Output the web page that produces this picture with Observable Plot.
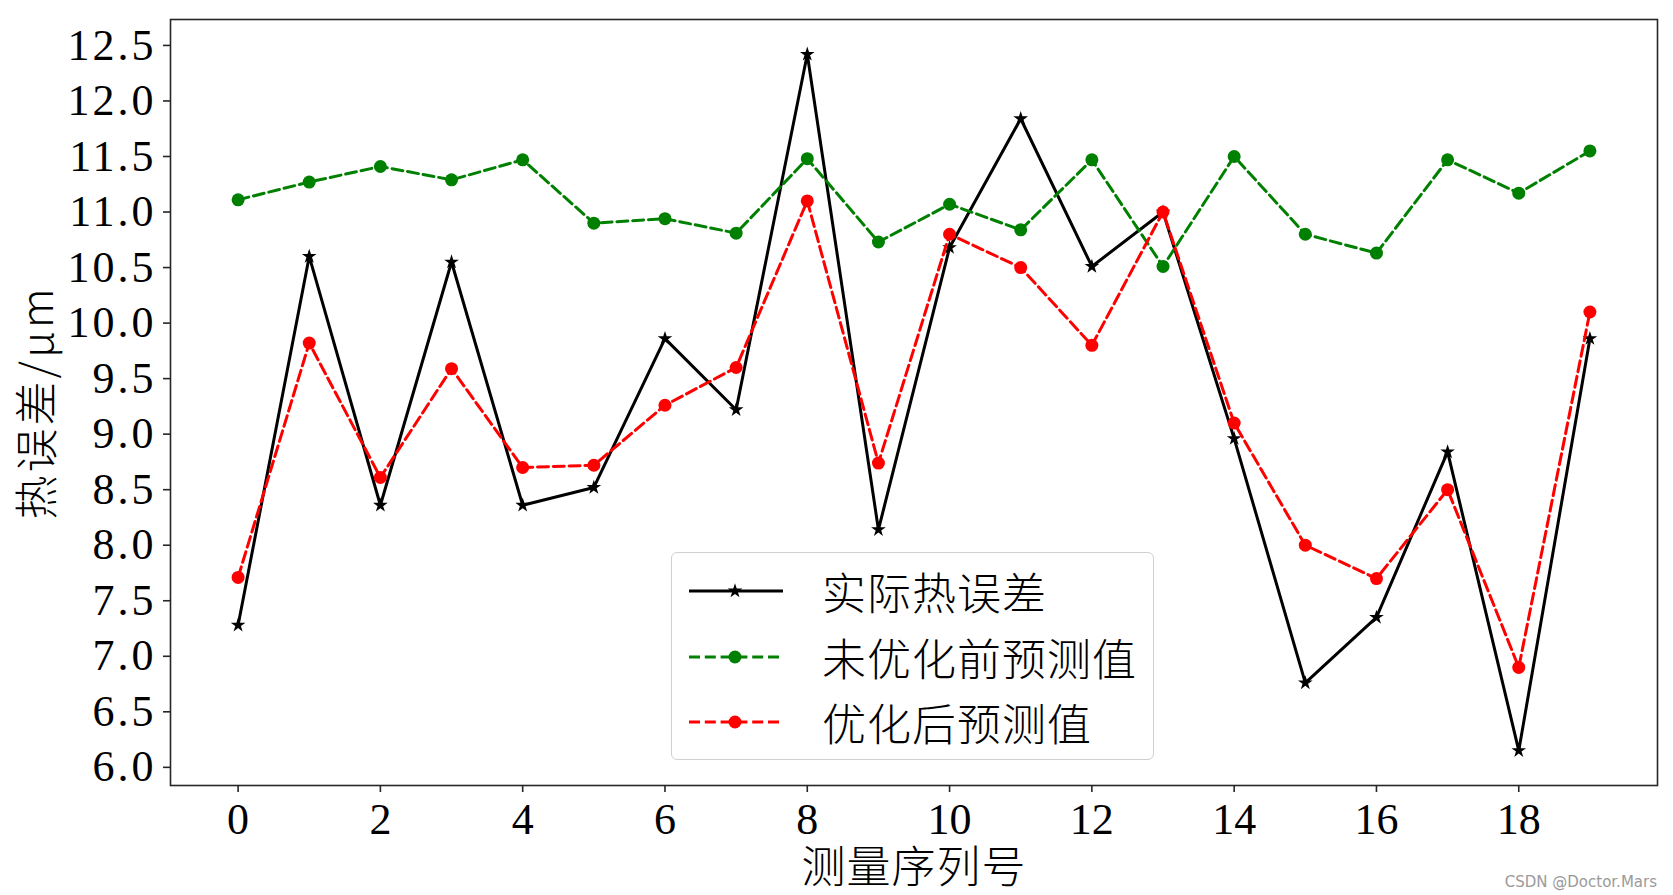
<!DOCTYPE html>
<html>
<head>
<meta charset="utf-8">
<script src="https://cdn.jsdelivr.net/npm/d3@7"></script>
<script src="https://cdn.jsdelivr.net/npm/@observablehq/plot@0.6"></script>
<style>
  body { margin: 0; background: #fff; }
  #wrap { position: relative; width: 1673px; height: 895px; overflow: hidden; }
  #wrap svg text { fill: #000; }
  g[aria-label="y-axis tick label"] text, g[aria-label="x-axis tick label"] text {
    font-family: "Liberation Serif", "DejaVu Serif", serif; font-size: 44px;
  }
  g[aria-label="y-axis tick label"] text { letter-spacing: 3px; }
  g[aria-label="y-axis label"] text, g[aria-label="x-axis label"] text {
    font-family: "Noto Sans CJK SC", sans-serif; font-size: 44px; font-weight: 300;
  }
  g[aria-label="y-axis label"] text { letter-spacing: 3px; }
  g[aria-label="x-axis label"] text { letter-spacing: 1px; }
  #legend {
    position: absolute; left: 671px; top: 552px; width: 483px; height: 208px;
    border: 1.5px solid #d0d0d0; border-radius: 6px; background: rgba(255,255,255,0.8);
    box-sizing: border-box;
  }
  .row { position: absolute; left: 0; height: 60px; display: flex; align-items: center; }
  .row svg { position: absolute; left: 16px; top: 0; }
  .row span { position: absolute; left: 150px; white-space: nowrap; font-family: "Noto Sans CJK SC", sans-serif; font-size: 44px; font-weight: 300; line-height: 60px; color: #000; letter-spacing: 1px; }
  #mark { position: absolute; right: 16px; bottom: 4px; font-family: "DejaVu Sans", sans-serif; font-size: 15px; color: #9a9a9a; }
</style>
</head>
<body>
<div id="wrap"></div>
<script>
// ---- data ----
const index = [0, 1, 2, 3, 4, 5, 6, 7, 8, 9, 10, 11, 12, 13, 14, 15, 16, 17, 18, 19];
const actual = [7.28, 10.60, 8.36, 10.55, 8.36, 8.52, 9.86, 9.22, 12.42, 8.14, 10.68, 11.84, 10.51, 11.00, 8.96, 6.76, 7.35, 8.84, 6.15, 9.86];
const beforeOpt = [11.11, 11.27, 11.41, 11.29, 11.47, 10.90, 10.94, 10.81, 11.48, 10.73, 11.07, 10.84, 11.47, 10.51, 11.50, 10.80, 10.63, 11.47, 11.17, 11.55];
const afterOpt = [7.71, 9.82, 8.61, 9.59, 8.70, 8.72, 9.26, 9.60, 11.10, 8.74, 10.80, 10.50, 9.80, 11.00, 9.10, 8.00, 7.70, 8.50, 6.90, 10.10];
const seriesNames = ["实际热误差", "未优化前预测值", "优化后预测值"];
const seriesColors = ["black", "green", "red"];
const xTicks = [0, 2, 4, 6, 8, 10, 12, 14, 16, 18];
const yTicks = [6.0, 6.5, 7.0, 7.5, 8.0, 8.5, 9.0, 9.5, 10.0, 10.5, 11.0, 11.5, 12.0, 12.5];
const xLabel = "测量序列号";
const yLabel = "热误差/μm";

// ---- build ----
const rows = vals => index.map((x, i) => ({x, y: vals[i]}));
const all = actual.concat(beforeOpt, afterOpt);
const yLo = d3.min(all), yHi = d3.max(all), yPad = (yHi - yLo) * 0.05;
const xLo = d3.min(index), xHi = d3.max(index), xPad = (xHi - xLo) * 0.05;
const dash = "11,4.8";
const lw = 3;

const chart = Plot.plot({
  width: 1673, height: 895,
  marginLeft: 170, marginTop: 19, marginRight: 16, marginBottom: 110,
  x: {domain: [xLo - xPad, xHi + xPad]},
  y: {domain: [yLo - yPad, yHi + yPad]},
  marks: [
    Plot.line(rows(actual), {x: "x", y: "y", stroke: seriesColors[0], strokeWidth: lw}),
    Plot.dot(rows(actual), {x: "x", y: "y", symbol: "star", fill: seriesColors[0], r: 4.6}),
    Plot.line(rows(beforeOpt), {x: "x", y: "y", stroke: seriesColors[1], strokeWidth: lw, strokeDasharray: dash}),
    Plot.dot(rows(beforeOpt), {x: "x", y: "y", fill: seriesColors[1], r: 6.5}),
    Plot.line(rows(afterOpt), {x: "x", y: "y", stroke: seriesColors[2], strokeWidth: lw, strokeDasharray: dash}),
    Plot.dot(rows(afterOpt), {x: "x", y: "y", fill: seriesColors[2], r: 6.5}),
    Plot.frame({stroke: "#262626", strokeWidth: 1.6}),
    Plot.axisX({ticks: xTicks, tickFormat: d => String(d), tickSize: 7, tickPadding: 10, stroke: "#262626", strokeWidth: 1.6,
      label: xLabel, labelAnchor: "center", labelArrow: "none", labelOffset: 97}),
    Plot.axisY({ticks: yTicks, tickFormat: d => d.toFixed(1), tickSize: 7, tickPadding: 7, stroke: "#262626", strokeWidth: 1.6,
      label: yLabel, labelAnchor: "center", labelArrow: "none", labelOffset: 149})
  ]
});

const wrap = document.getElementById("wrap");
wrap.appendChild(chart);

// ---- legend ----
const legend = document.createElement("div");
legend.id = "legend";
const rowTops = [8, 74, 139];
seriesNames.forEach((name, i) => {
  const row = document.createElement("div");
  row.className = "row";
  row.style.top = rowTops[i] + "px";
  const ns = "http://www.w3.org/2000/svg";
  const s = document.createElementNS(ns, "svg");
  s.setAttribute("width", "100"); s.setAttribute("height", "60");
  const ln = document.createElementNS(ns, "line");
  ln.setAttribute("x1", "1"); ln.setAttribute("x2", "95"); ln.setAttribute("y1", "30"); ln.setAttribute("y2", "30");
  ln.setAttribute("stroke", seriesColors[i]); ln.setAttribute("stroke-width", String(lw));
  if (i > 0) ln.setAttribute("stroke-dasharray", dash);
  s.appendChild(ln);
  if (i === 0) {
    const star = document.createElementNS(ns, "path");
    star.setAttribute("d", d3.symbol(d3.symbolStar, 4.6 * 4.6 * Math.PI)());
    star.setAttribute("transform", "translate(47,30)");
    star.setAttribute("fill", seriesColors[i]);
    s.appendChild(star);
  } else {
    const c = document.createElementNS(ns, "circle");
    c.setAttribute("cx", "47"); c.setAttribute("cy", "30"); c.setAttribute("r", "6.5");
    c.setAttribute("fill", seriesColors[i]);
    s.appendChild(c);
  }
  row.appendChild(s);
  const t = document.createElement("span");
  t.textContent = name;
  row.appendChild(t);
  legend.appendChild(row);
});
wrap.appendChild(legend);

const mark = document.createElement("div");
mark.id = "mark";
mark.textContent = "CSDN @Doctor.Mars";
wrap.appendChild(mark);
</script>
</body>
</html>
